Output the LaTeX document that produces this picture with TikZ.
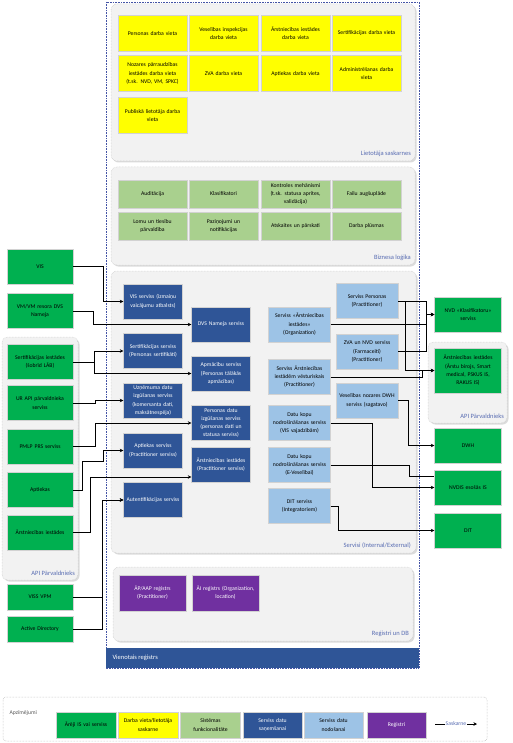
\documentclass[tikz,border=0pt]{standalone}
\usepackage{fontspec}
\setmainfont{Carlito}
\usetikzlibrary{arrows.meta,shadows}

\definecolor{extgreen}{RGB}{0,176,80}
\definecolor{uiyellow}{RGB}{255,255,0}
\definecolor{bizgreen}{RGB}{169,208,142}
\definecolor{getblue}{RGB}{47,85,151}
\definecolor{putblue}{RGB}{157,195,230}
\definecolor{regpurple}{RGB}{112,48,160}
\definecolor{frameblue}{RGB}{68,84,166}
\definecolor{lblblue}{RGB}{88,108,178}

\begin{document}
\begin{tikzpicture}[x=1pt,y=-1pt,font=\fontsize{5.7}{8.2}\selectfont,
 box/.style={draw=gray!35,line width=0.4pt,fill=#1,align=center,inner sep=1pt},
 ui/.style={box=uiyellow,text width=67pt,minimum height=36pt},
 biz/.style={box=bizgreen,text width=67pt,minimum height=28pt},
 get/.style={box=getblue,text=white,text width=57pt,minimum height=35pt},
 put/.style={box=putblue,text width=60pt,minimum height=35pt},
 reg/.style={box=regpurple,text=white,text width=65pt,minimum height=36pt},
 ext/.style={box=extgreen,text width=64pt,minimum height=35pt},
 grp/.style={rounded corners=6pt,fill=gray!10,draw=gray!45,densely dotted,line width=0.5pt,
  drop shadow={shadow xshift=1.5pt,shadow yshift=-1.5pt,fill=gray!55}},
 grplbl/.style={anchor=south east,text=lblblue,inner sep=1pt,font=\fontsize{6.5}{7}\selectfont},
 wire/.style={line width=0.9pt,black},
 conn/.style={wire,-{Stealth[length=3.5pt,width=3.5pt]}}]
\fill[white] (0,0) rectangle (512,743);
\useasboundingbox (0,0) rectangle (512,743);

% Vienotais registrs
\draw[frameblue,densely dotted,line width=0.6pt] (106,2) rectangle (419,668);
\fill[getblue] (106,648) rectangle (419,668);
\node[anchor=west,text=white,font=\fontsize{6.5}{7}\selectfont] (vr) at (109,658) {Vienotais reģistrs};

% grupas
\draw[grp] (111,4) rectangle (415,161);
\node[grplbl] (lslbl) at (412,158) {Lietotāja saskarnes};
\draw[grp] (111,167) rectangle (415,265);
\node[grplbl] (bllbl) at (412,262) {Biznesa loģika};
\draw[grp] (111,271) rectangle (416,553);
\node[grplbl] (svlbl) at (412,550) {Servisi (Internal/External)};
\draw[grp] (113,567) rectangle (413,641);
\node[grplbl] (rglbl) at (410,638) {Reģistri un DB};
\draw[grp] (2,337) rectangle (78,580);
\node[grplbl] (apilbl1) at (76,577) {API Pārvaldnieks};
\draw[grp] (428,342) rectangle (507,423);
\node[grplbl] (apilbl2) at (505,420) {API Pārvaldnieks};

% darba vietas
\node[ui] (pdv) at (152.5,33.5) {Personas darba vieta};
\node[ui] (vidv) at (223.5,33.5) {Veselības inspekcijas\\darba vieta};
\node[ui] (aidv) at (295.5,33.5) {Ārstniecības iestādes\\darba vieta};
\node[ui] (sdv) at (366.5,33.5) {Sertifikācijas darba vieta};
\node[ui] (npdv) at (152.5,73.5) {Nozares pārraudzības\\iestādes darba vieta\\(t.sk. NVD, VM, SPKC)};
\node[ui] (zdv) at (223.5,73.5) {ZVA darba vieta};
\node[ui] (apdv) at (295.5,73.5) {Aptiekas darba vieta};
\node[ui] (addv) at (366.5,73.5) {Administrēšanas darba\\vieta};
\node[ui] (pldv) at (152.5,115.5) {Publiskā lietotāja darba\\vieta};

% funkcionalitate
\node[biz] (aud) at (152.5,194) {Auditācija};
\node[biz] (klas) at (223.5,194) {Klasifikatori};
\node[biz] (kontr) at (295.5,194) {Kontroles mehānismi\\(t.sk. statusa aprites,\\validācija)};
\node[biz] (fail) at (366.5,194) {Failu augšuplāde};
\node[biz] (lomu) at (152.5,226) {Lomu un tiesību\\pārvaldība};
\node[biz] (pazi) at (223.5,226) {Paziņojumi un\\notifikācijas};
\node[biz] (atsk) at (295.5,226) {Atskaites un pārskati};
\node[biz] (plus) at (366.5,226) {Darba plūsmas};

% servisi datu sanemsanai
\node[get] (visS) at (153,301.5) {VIS serviss (izmaiņu\\vaicājumu atbalsts)};
\node[get] (dvs) at (221,324.5) {DVS Nameja serviss};
\node[get] (sertS) at (153,351) {Sertifikācijas serviss\\(Personas sertifikāti)};
\node[get] (apm) at (221,373.5) {Apmācību serviss\\(Personas tālākās\\apmācības)};
\node[get] (uzn) at (153,400.5) {Uzņēmuma datu\\izgūšanas serviss\\(komersanta dati,\\maksātnespēja)};
\node[get] (pdat) at (221,423) {Personas datu\\izgūšanas serviss\\(personas dati un\\statusa serviss)};
\node[get] (aptS) at (153,450.5) {Aptiekas serviss\\(Practitioner serviss)};
\node[get] (aiS) at (221,465) {Ārstniecības iestādes\\(Practitioner serviss)};
\node[get] (aut) at (153,500) {Autentifikācijas serviss};

% servisi datu nodosanai
\node[put] (pers) at (367,301) {Serviss Personas\\(Practitioner)};
\node[put] (aiSvc) at (299.5,324.5) {Serviss «Ārstniecības\\iestādes»\\(Organization)};
\node[put] (zva) at (367,351.5) {ZVA un NVD serviss\\(Farmaceiti)\\(Practitioner)};
\node[put] (vest) at (299.5,377) {Serviss Ārstniecības\\iestādēm vēsturiskais\\(Practitioner)};
\node[put] (dwhS) at (367,400.5) {Veselības nozares DWH\\serviss (sagatavo)};
\node[put] (dkV) at (299.5,423) {Datu kopu\\nodrošināšanas serviss\\(VIS vajadzībām)};
\node[put] (dkE) at (299.5,465) {Datu kopu\\nodrošināšanas serviss\\(E-Veselībai)};
\node[put] (ditS) at (299.5,506) {DIT serviss\\(Integratoriem)};

% registri
\node[reg] (aap) at (152.5,593) {ĀP/AAP reģistrs\\(Practitioner)};
\node[reg] (air) at (225.5,593) {ĀI reģistrs (Organization,\\location)};

% areji IS
\node[ext] (vis) at (40,266.5) {VIS};
\node[ext] (vsn) at (40,311) {VM/VM resora DVS\\Nameja};
\node[ext] (sert) at (40,362) {Sertifikācijas iestādes\\(šobrīd LĀB)};
\node[ext] (ur) at (40,403) {UR API pārvaldnieka\\serviss};
\node[ext] (pmlp) at (40,446.5) {PMLP PRS serviss};
\node[ext] (apt) at (40,490) {Aptiekas};
\node[ext] (ai) at (40,532.5) {Ārstniecības iestādes};
\node[ext,minimum height=26pt] (viss) at (40,597) {VISS VPM};
\node[ext,minimum height=26pt] (ad) at (40,629) {Active Directory};
\node[ext,text width=65pt] (nvd) at (468,314.5) {NVD «Klasifikatoru»\\serviss};
\node[ext,text width=65pt,minimum height=45pt] (aiA) at (468,370.5) {Ārstniecības iestādes\\(Ārstu birojs, Smart\\medical, PSKUS IS,\\RAKUS IS)};
\node[ext,text width=65pt] (dwh) at (468,445.5) {DWH};
\node[ext,text width=65pt] (nvdis) at (468,487.5) {NVDIS esošās IS};
\node[ext,text width=65pt] (dit) at (468,530.5) {DIT};

% saskarnes
\draw[conn] (vis.east) -- ++(30,0) |- (visS.west);
\draw[conn] (vsn.east) -- ++(20,0) |- (dvs.west);
\draw[conn] (sert.east) -- ++(21,0) |- (sertS.west);
\draw[conn] (sert.east) -- ++(21,0) |- (apm.west);
\draw[conn] (ur.east) -- ++(22,0) |- (uzn.west);
\draw[conn] (pmlp.east) -- ++(22,0) |- (pdat.west);
\draw[conn] (apt.east) -- ++(9,0) -- ++(0,-29) -- ++(21,0) |- (aptS.west);
\draw[conn] (ai.east) -- ++(17,0) |- ([yshift=-12pt]aiS.west);
\draw[conn] (viss.east) -- ++(29,0) |- (aut.west);
\draw[conn] (ad.east) -- ++(29,0) |- (aut.west);
\draw[conn] (pers.east) -- ++(28,0) |- (nvd.west);
\draw[conn] (pers.east) -- ++(7,0) |- (aiA.west);
\draw[conn] (aiSvc.east) -- ++(95.5,0) |- (nvd.west);
\draw[conn] (zva.east) -- ++(28,0) |- (nvd.west);
\draw[conn] (vest.east) -- ++(92,0) |- (aiA.west);
\draw[conn] (dwhS.east) -- ++(10,0) |- (dwh.west);
\draw[conn] (dkV.east) -- ++(42,0) |- (nvdis.west);
\draw[wire] (dkE.east) -- ++(79,0) |- ([yshift=11pt]nvdis.west);
\draw[conn] (ditS.east) -- ++(8,0) |- (dit.west);

% apzimejumi
\draw[gray!60,densely dotted,rounded corners=3pt,line width=0.5pt] (3,697) rectangle (487,741);
\node[anchor=west,text=gray!70!black] (apz) at (6,713) {Apzīmējumi};
\node[box=extgreen,text width=58pt,minimum height=26pt] (lg1) at (86,725) {Ārēji IS vai serviss};
\node[box=uiyellow,text width=58pt,minimum height=26pt] (lg2) at (148,725) {Darba vieta/lietotāja\\saskarne};
\node[box=bizgreen,text width=58pt,minimum height=26pt] (lg3) at (210.5,725) {Sistēmas\\funkcionalitāte};
\node[box=getblue,text=white,text width=57pt,minimum height=26pt] (lg4) at (272.5,725) {Serviss datu\\saņemšanai};
\node[box=putblue,text width=57pt,minimum height=26pt] (lg5) at (333.5,725) {Serviss datu\\nodošanai};
\node[box=regpurple,text=white,text width=57pt,minimum height=26pt] (lg6) at (396.5,725) {Reģistri};
\coordinate (sk1) at (435,724);
\coordinate (sk2) at (477,724);
\draw[conn] (sk1) -- node[fill=white,text=lblblue,inner sep=0.5pt] (sklbl) {Saskarne} (sk2);
\end{tikzpicture}
\end{document}
